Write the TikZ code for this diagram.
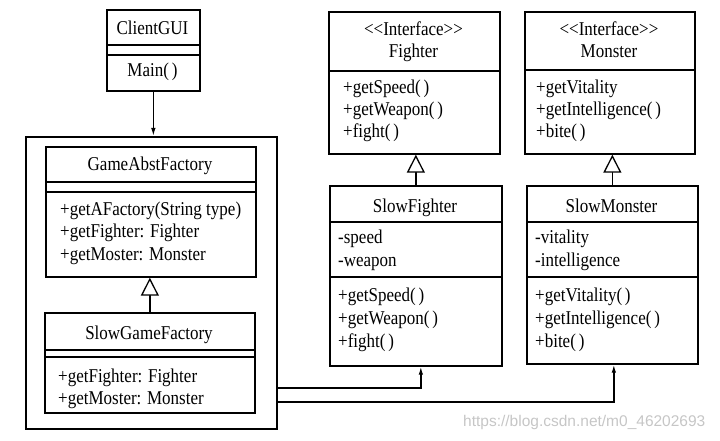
\documentclass[tikz,border=0pt]{standalone}
\usepackage{fontspec}
\usepackage{graphicx}
\setmainfont{Liberation Serif}
\setsansfont{Liberation Sans}
\usetikzlibrary{arrows.meta}
\newcommand\vtxt[1]{\scalebox{1}[1.15]{#1}}
\begin{document}
\begin{tikzpicture}[x=1pt,y=-1pt,
 box/.style={draw, line width=1.7pt, anchor=north west, inner sep=0pt},
 txt/.style={anchor=base west, inner sep=0pt, font=\fontsize{17}{20}\selectfont},
 ctxt/.style={anchor=base, inner sep=0pt, font=\fontsize{17}{20}\selectfont},
 div/.style={line width=1.6pt},
 conn/.style={line width=1.3pt, -{Latex[length=8pt,width=4.5pt]}},
 inh/.style={line width=1.3pt, -{Triangle[open,length=18pt,width=18pt,line width=1.3pt,fill=white]}},
 wm/.style={anchor=base west, inner sep=0pt, text=gray!45, font=\sffamily\fontsize{15.5}{18}\selectfont}
]
\useasboundingbox (0,0) rectangle (720,441);

% ClientGUI
\node[box, minimum width=93pt, minimum height=81pt] (gui) at (106,9) {};
\draw[div] (106,45) -- (199,45);
\draw[div] (106,55) -- (199,55);
\node[ctxt] (guiN) at (152.5,35) {\vtxt{ClientGUI}};
\node[ctxt] (guiM) at (152.5,77) {\vtxt{Main(\,)}};

% outer package
\node[box, minimum width=251pt, minimum height=292pt] (outer) at (25,136) {};

% GameAbstFactory
\node[box, minimum width=210pt, minimum height=130pt] (gaf) at (45,146) {};
\draw[div] (45,182) -- (255,182);
\draw[div] (45,192) -- (255,192);
\node[ctxt] (gafN) at (150,171) {\vtxt{GameAbstFactory}};
\node[txt] (gaf1) at (60,215) {\vtxt{+getAFactory(String type)}};
\node[txt] (gaf2) at (60,237) {\vtxt{+getFighter: Fighter}};
\node[txt] (gaf3) at (60,260) {\vtxt{+getMoster: Monster}};

% SlowGameFactory
\node[box, minimum width=210pt, minimum height=100pt] (sgf) at (44,312) {};
\draw[div] (44,350) -- (254,350);
\draw[div] (44,357) -- (254,357);
\node[ctxt] (sgfN) at (149,339) {\vtxt{SlowGameFactory}};
\node[txt] (sgf1) at (58,382) {\vtxt{+getFighter: Fighter}};
\node[txt] (sgf2) at (58,404) {\vtxt{+getMoster: Monster}};

% Fighter
\node[box, minimum width=171pt, minimum height=142pt] (fi) at (328,11) {};
\draw[div] (328,71) -- (499,71);
\node[ctxt] (fiS) at (413.5,36) {\vtxt{<\kern0pt<Interface>\kern0pt>}};
\node[ctxt] (fiN) at (413.5,58) {\vtxt{Fighter}};
\node[txt] (fi1) at (343,94) {\vtxt{+getSpeed(\,)}};
\node[txt] (fi2) at (343,116) {\vtxt{+getWeapon(\,)}};
\node[txt] (fi3) at (343,138) {\vtxt{+fight(\,)}};

% Monster
\node[box, minimum width=170pt, minimum height=142pt] (mo) at (524,11) {};
\draw[div] (524,70) -- (694,70);
\node[ctxt] (moS) at (609,36) {\vtxt{<\kern0pt<Interface>\kern0pt>}};
\node[ctxt] (moN) at (609,58) {\vtxt{Monster}};
\node[txt] (mo1) at (536,94) {\vtxt{+getVitality}};
\node[txt] (mo2) at (536,116) {\vtxt{+getIntelligence(\,)}};
\node[txt] (mo3) at (536,138) {\vtxt{+bite(\,)}};

% SlowFighter
\node[box, minimum width=172pt, minimum height=180pt] (sf) at (329,185) {};
\draw[div] (329,222) -- (501,222);
\draw[div] (329,277) -- (501,277);
\node[ctxt] (sfN) at (415,212) {\vtxt{SlowFighter}};
\node[txt] (sfa1) at (338,243) {\vtxt{-speed}};
\node[txt] (sfa2) at (338,266) {\vtxt{-weapon}};
\node[txt] (sf1) at (338,301) {\vtxt{+getSpeed(\,)}};
\node[txt] (sf2) at (338,324) {\vtxt{+getWeapon(\,)}};
\node[txt] (sf3) at (338,347) {\vtxt{+fight(\,)}};

% SlowMonster
\node[box, minimum width=171pt, minimum height=178pt] (sm) at (526,185) {};
\draw[div] (526,222) -- (697,222);
\draw[div] (526,277) -- (697,277);
\node[ctxt] (smN) at (611.5,212) {\vtxt{SlowMonster}};
\node[txt] (sma1) at (535,243) {\vtxt{-vitality}};
\node[txt] (sma2) at (535,266) {\vtxt{-intelligence}};
\node[txt] (sm1) at (535,301) {\vtxt{+getVitality(\,)}};
\node[txt] (sm2) at (535,324) {\vtxt{+getIntelligence(\,)}};
\node[txt] (sm3) at (535,347) {\vtxt{+bite(\,)}};

% connectors
\draw[conn] (gui.south) -- (gui.south |- outer.north);
\draw[inh] (sgf.north) -- (sgf.north |- gaf.south);
\draw[inh] (sf.north) -- (sf.north |- fi.south);
\draw[inh] (sm.north) -- (sm.north |- mo.south);
\draw[conn] (outer.east |- 0,388) -| ([xshift=5pt]sf.south);
\draw[conn] (outer.east |- 0,402) -| ([xshift=1.5pt]sm.south);

% watermark
\node[wm] (wmark) at (463,426) {https://blog.csdn.net/m0\_46202693};
\end{tikzpicture}
\end{document}
